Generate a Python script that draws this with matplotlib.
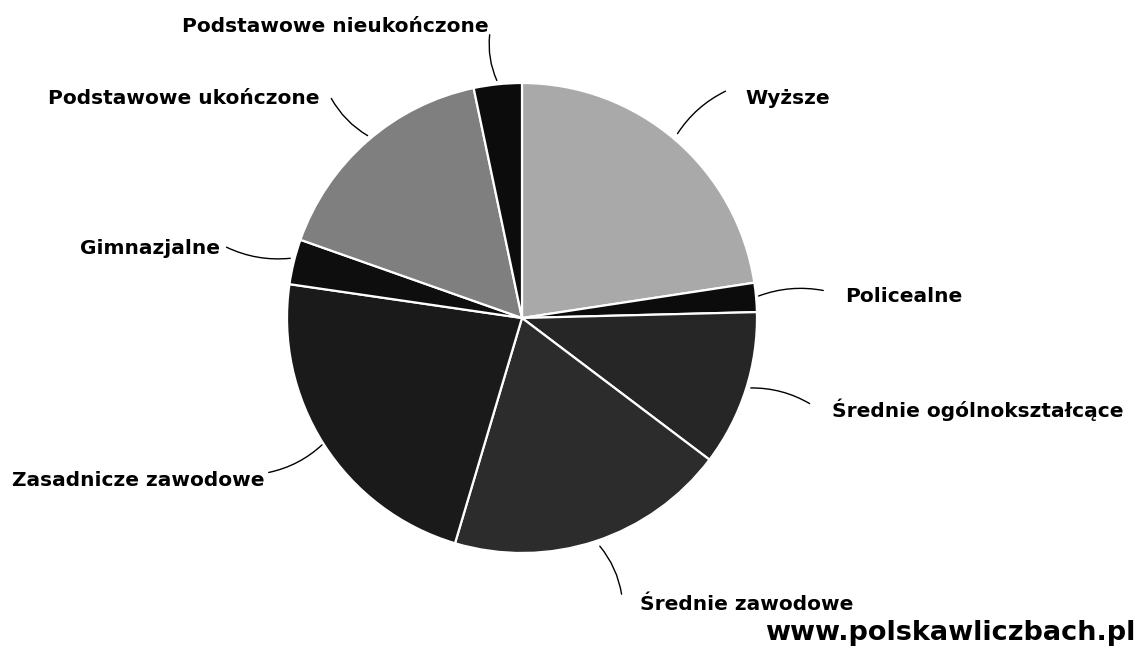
import matplotlib.pyplot as plt

# education levels, clockwise from 12 o'clock
labels = ["Wyższe", "Policealne", "Średnie ogólnokształcące", "Średnie zawodowe",
          "Zasadnicze zawodowe", "Gimnazjalne", "Podstawowe ukończone",
          "Podstawowe nieukończone"]
shares = [22.6, 2.0, 10.7, 19.3, 22.7, 3.1, 16.3, 3.3]
colors = ["#a9a9a9", "#0c0c0c", "#262626", "#2c2c2c", "#1a1a1a", "#0e0e0e",
          "#7f7f7f", "#0c0c0c"]

# label text position (left x, centre y) and leader line (start -> pie edge), in px
label_pos = [(745, 98), (845, 296), (832, 410), (640, 604),
             (12, 481), (80, 248), (48, 99), (182, 27)]
leaders = [((728, 90), (676, 136)), ((826, 291), (756, 297)),
           ((812, 405), (748, 388)), ((622, 597), (598, 544)),
           ((266, 473), (324, 443)), ((224, 246), (293, 258)),
           ((330, 96), (370, 137)), ((490, 32), (498, 83))]

W, H = 1137, 648
fig = plt.figure(figsize=(W / 100, H / 100), dpi=100)
ax = fig.add_axes([0, 0, 1, 1])

ax.pie(shares, colors=colors, startangle=90, counterclock=False,
       center=(522, H - 318), radius=235, frame=True,
       wedgeprops={"edgecolor": "white", "linewidth": 1.6})

for lab, (x, y), (p0, p1) in zip(labels, label_pos, leaders):
    ax.text(x, H - y, lab, fontsize=14.5, fontweight="bold", family="DejaVu Sans",
            ha="left", va="center", color="black")
    ax.annotate("", xy=(p1[0], H - p1[1]), xytext=(p0[0], H - p0[1]),
                arrowprops=dict(arrowstyle="-", color="black", lw=1.0,
                                connectionstyle="arc3,rad=0.15"))

ax.text(W - 2, H - 633, "www.polskawliczbach.pl", fontsize=19.5, fontweight="bold",
        family="DejaVu Sans", ha="right", va="center", color="black")

ax.set_xlim(0, W)
ax.set_ylim(0, H)
ax.set_aspect("equal")
ax.axis("off")

fig.savefig("out.png", dpi=100, facecolor="white")
